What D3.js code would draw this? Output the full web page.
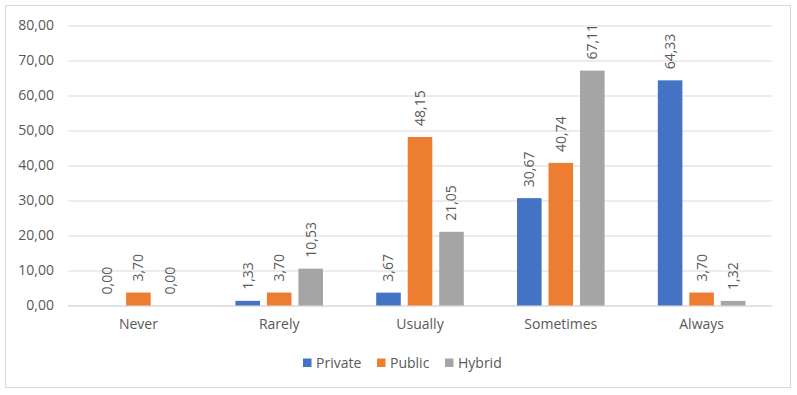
<!DOCTYPE html>
<html><head><meta charset="utf-8">
<script src="https://cdn.jsdelivr.net/npm/d3@7"></script>
<style>
body{margin:0;background:#fff;}
text{font-family:"Open Sans",sans-serif;fill:#595959;}
</style></head>
<body><svg id="c" width="797" height="395"></svg>
<script>
const categories = ["Never","Rarely","Usually","Sometimes","Always"];
const seriesNames = ["Private","Public","Hybrid"];
const privateVals = [0.00, 1.33, 3.67, 30.67, 64.33];
const publicVals = [3.70, 3.70, 48.15, 40.74, 3.70];
const hybridVals = [0.00, 10.53, 21.05, 67.11, 1.32];
const yTicks = [0,10,20,30,40,50,60,70,80];
const colors = ["#4472C4","#ED7D31","#A5A5A5"];

(function(){
const series = [privateVals, publicVals, hybridVals];
const fmt = v => v.toFixed(2).replace(".", ",");

const svg = d3.select("#c");
svg.append("rect").attr("x",5.5).attr("y",5.5).attr("width",785).attr("height",382)
  .attr("fill","#fff").attr("stroke","#d9d9d9");

const pLeft = 68, pRight = 772, pTop = 25.5, pBottom = 305.5;
const y = d3.scaleLinear().domain([0,80]).range([pBottom, pTop]);
const x0 = d3.scaleBand().domain(categories).range([pLeft,pRight]).paddingInner(0.378).paddingOuter(0.189);
const x1 = d3.scaleBand().domain(seriesNames).range([0, x0.bandwidth()]).paddingInner(0.22).paddingOuter(0);

const yAxis = d3.axisLeft(y).tickValues(yTicks).tickSize(-(pRight-pLeft)).tickFormat(fmt).tickPadding(14);
const ga = svg.append("g").attr("transform",`translate(${pLeft},0)`).call(yAxis);
ga.select(".domain").remove();
ga.selectAll(".tick line").attr("stroke","#d9d9d9").attr("stroke-width",1);
ga.selectAll(".tick text").attr("font-size","14px").attr("fill","#595959").style("font-family","'Open Sans',sans-serif");

const xAxis = d3.axisBottom(x0).tickSize(0).tickPadding(14);
const gx = svg.append("g").attr("transform",`translate(0,${pBottom})`).call(xAxis);
gx.select(".domain").attr("stroke","#d9d9d9");
gx.selectAll(".tick text").attr("font-size","14px").attr("fill","#595959").style("font-family","'Open Sans',sans-serif");

const groups = svg.append("g").selectAll("g").data(categories).join("g")
  .attr("transform", c => `translate(${x0(c)},0)`);
seriesNames.forEach((s, si) => {
  groups.append("rect")
    .attr("x", x1(s))
    .attr("width", x1.bandwidth())
    .attr("y", (c,i) => y(series[si][i]))
    .attr("height", (c,i) => pBottom - y(series[si][i]))
    .attr("fill", colors[si]);
  groups.append("text")
    .attr("transform", (c,i) => `translate(${x1(s)+x1.bandwidth()/2},${y(series[si][i])-11}) rotate(-90)`)
    .attr("dy","0.35em")
    .attr("text-anchor","start")
    .attr("font-size","14px")
    .text((c,i) => fmt(series[si][i]));
});

const legendX = [303, 377, 445];
const lg = svg.append("g");
seriesNames.forEach((s, i) => {
  lg.append("rect").attr("x", legendX[i]).attr("y", 358.5).attr("width", 8.5).attr("height", 8.5).attr("fill", colors[i]);
  lg.append("text").attr("x", legendX[i] + 13).attr("y", 363).attr("dy","0.35em").attr("font-size","14px").text(s);
});
})();
</script></body></html>
